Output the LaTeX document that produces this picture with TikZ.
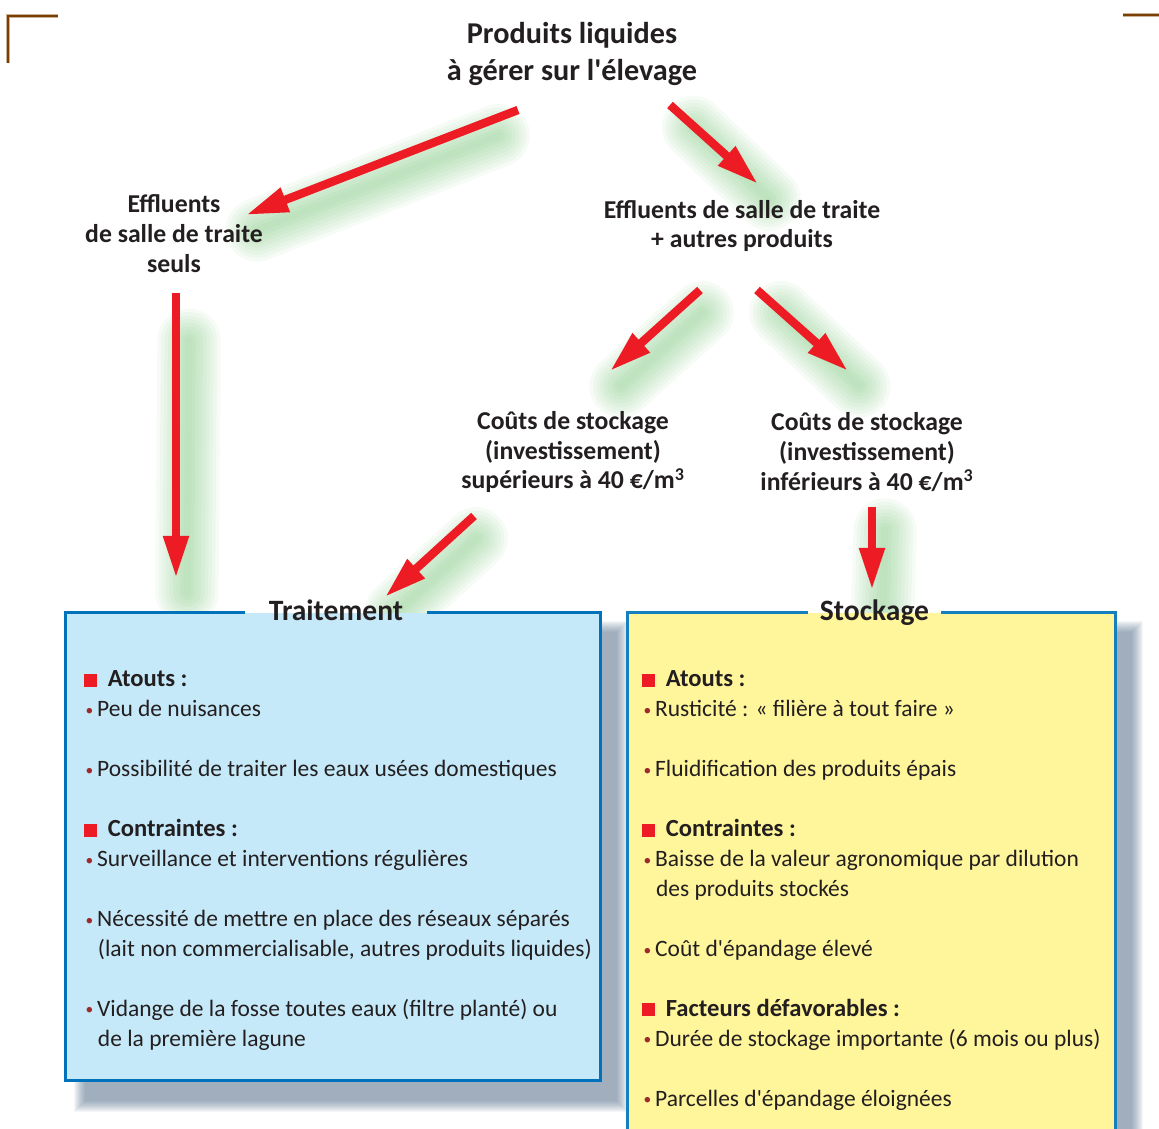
\documentclass[tikz,border=0pt]{standalone}
\usepackage{fontspec}
\setmainfont{Carlito}
\newfontfamily\brut{Carlito}
\usepackage{tikz}
\usetikzlibrary{arrows.meta,positioning,calc,backgrounds}
\definecolor{ArrowRed}{HTML}{ED1C24}
\definecolor{GlowGreen}{HTML}{5DB85D}
\definecolor{TextDark}{HTML}{231F20}
\definecolor{CornerBrown}{HTML}{7A3E00}
\definecolor{BlueFill}{HTML}{C6E9F9}
\definecolor{BlueLine}{HTML}{0072BC}
\definecolor{YellowFill}{HTML}{FFF59A}
\definecolor{YellowLine}{HTML}{1480BE}
\definecolor{DotRed}{HTML}{9E2A2B}
\definecolor{ShadowBlue}{HTML}{3E5C7C}
\newcommand{\apos}{{\brut'}}
\newcommand{\carre}[1]{\makebox[17pt][l]{\textcolor{ArrowRed}{\rule{9.3pt}{9.3pt}}}{\bfseries\fontsize{17.5}{21.3}\selectfont #1}}
\newcommand{\puce}{\makebox[9.4pt][l]{\hspace{1.2pt}\textcolor{DotRed}{\raisebox{1pt}{\fontsize{11}{11}\selectfont •}}}}
\newcommand{\suite}{\hspace{10pt}}
\tikzset{
  fleche/.style={-{Triangle[length=30pt,width=17pt]},line width=6pt,draw=ArrowRed},
  lbl/.style={align=center,text=TextDark,inner sep=0pt,
              font=\fontsize{18.3}{21.3}\selectfont\bfseries},
  titre/.style={lbl,font=\fontsize{21.5}{26.3}\selectfont\bfseries},
  boxT/.style={rectangle,fill=BlueFill,inner sep=0pt},
  boxS/.style={rectangle,fill=YellowFill,inner sep=0pt},
  boxtitle/.style={text=TextDark,inner ysep=0pt,text height=1.25em,text depth=0.2em,
                   font=\fontsize{21}{24}\selectfont\bfseries},
  contenu/.style={align=left,text=TextDark,inner sep=0pt,anchor=north west,
                  font=\fontsize{16.7}{21.3}\selectfont}
}
\newcommand{\halo}[2]{%
  \foreach \w in {5,10,...,45}
    \draw[GlowGreen,line width=\w pt,opacity=0.055,line cap=round]
      ($(#1)!0.12!(#2)+(13,13)$) -- ($(#2)+(11,15)$);}

\begin{document}
\begin{tikzpicture}[x=0.025cm,y=-0.025cm]
  \clip (0,0) rectangle (1159,1129);

  % corner marks
  \draw[CornerBrown!40,line width=3.2pt] (8,63) -- (8,16) -- (58,16);
  \draw[CornerBrown,line width=2pt] (8,63) -- (8,16) -- (58,16);
  \draw[CornerBrown!40,line width=3.2pt] (1123,15) -- (1159,15);
  \draw[CornerBrown,line width=2pt] (1123,15) -- (1159,15);

  % labels
  \node[titre] (prod) at (572,54) {Produits liquides\\à gérer sur l\apos élevage};
  \node[lbl] (seuls) at (174,234) {Effluents\\de salle de traite\\seuls};
  \node[lbl] (autres) at (742,226) {Effluents de salle de traite\\+ autres produits};
  \node[lbl] (sup) at (573,452) {Coûts de stockage\\(investissement)\\supérieurs à 40 €/m\textsuperscript{3}};
  \node[lbl] (inf) at (867,452) {Coûts de stockage\\(investissement)\\inférieurs à 40 €/m\textsuperscript{3}};

  % boxes
  \node[boxT,minimum width=13.35cm,minimum height=11.675cm] (trait) at (333,846.5) {};
  \node[boxS,minimum width=12.175cm,minimum height=13.175cm] (stock) at (871.5,876.5) {};
  \node[boxtitle,inner xsep=17pt] (ttrait) at ($(trait.north)+(3,0)$) {Traitement};
  \node[boxtitle,inner xsep=8pt] (tstock) at ($(stock.north)+(3,0)$) {Stockage};
  \draw[BlueLine,line width=1.8pt] (ttrait.west) -- (trait.north west) -- (trait.south west)
    -- (trait.south east) -- (trait.north east) -- (ttrait.east);
  \draw[YellowLine,line width=1.8pt] (tstock.west) -- (stock.north west) -- (stock.south west)
    -- (stock.south east) -- (stock.north east) -- (tstock.east);

  \node[contenu] (ctrait) at ($(trait.north west)+(18,58)$) {%
    \carre{Atouts :}\\
    \puce Peu de nuisances\\[21.3pt]
    \puce Possibilité de traiter les eaux usées domestiques\\[21.3pt]
    \carre{Contraintes :}\\
    \puce Surveillance et interventions régulières\\[21.3pt]
    \puce Nécessité de mettre en place des réseaux séparés\\
    \suite(lait non commercialisable, autres produits liquides)\\[21.3pt]
    \puce Vidange de la fosse toutes eaux (filtre planté) ou\\
    \suite de la première lagune};
  \node[contenu] (cstock) at ($(stock.north west)+(14,58)$) {%
    \carre{Atouts :}\\
    \puce Rusticité : «~filière à tout faire~»\\[21.3pt]
    \puce Fluidification des produits épais\\[21.3pt]
    \carre{Contraintes :}\\
    \puce Baisse de la valeur agronomique par dilution\\
    \suite des produits stockés\\[21.3pt]
    \puce Coût d\apos épandage élevé\\[21.3pt]
    \carre{Facteurs défavorables :}\\
    \puce Durée de stockage importante (6 mois ou plus)\\[21.3pt]
    \puce Parcelles d\apos épandage éloignées};

  % arrows
  \coordinate (a1s) at (518,110); \coordinate (a1e) at (246,215);
  \coordinate (a2s) at (670,105); \coordinate (a2e) at (758,184);
  \coordinate (a3s) at (176,293); \coordinate (a3e) at (176,578);
  \coordinate (a4s) at (700,290); \coordinate (a4e) at (610,371);
  \coordinate (a5s) at (757,290); \coordinate (a5e) at (848,371);
  \coordinate (a6s) at (474,516); \coordinate (a6e) at (385,597);
  \coordinate (a7s) at (872,507); \coordinate (a7e) at (872,590);
  \draw[fleche] (a1s) -- (a1e);
  \draw[fleche] (a2s) -- (a2e);
  \draw[fleche] (a3s) -- (a3e);
  \draw[fleche] (a4s) -- (a4e);
  \draw[fleche] (a5s) -- (a5e);
  \draw[fleche] (a6s) -- (a6e);
  \draw[fleche] (a7s) -- (a7e);

  \begin{scope}[on background layer]
    \halo{a1s}{a1e} \halo{a2s}{a2e} \halo{a3s}{a3e} \halo{a4s}{a4e}
    \halo{a5s}{a5e} \halo{a6s}{a6e} \halo{a7s}{a7e}
    \foreach \k in {0,...,11}
      \fill[ShadowBlue,opacity=0.055] ($(trait.north west)+(8+\k,8+\k)$)
        rectangle ($(trait.south east)+(28-\k,32-\k)$);
    \foreach \k in {0,...,11}
      \fill[ShadowBlue,opacity=0.055] ($(stock.north west)+(8+\k,8+\k)$)
        rectangle ($(stock.south east)+(28-\k,32-\k)$);
  \end{scope}
\end{tikzpicture}
\end{document}
